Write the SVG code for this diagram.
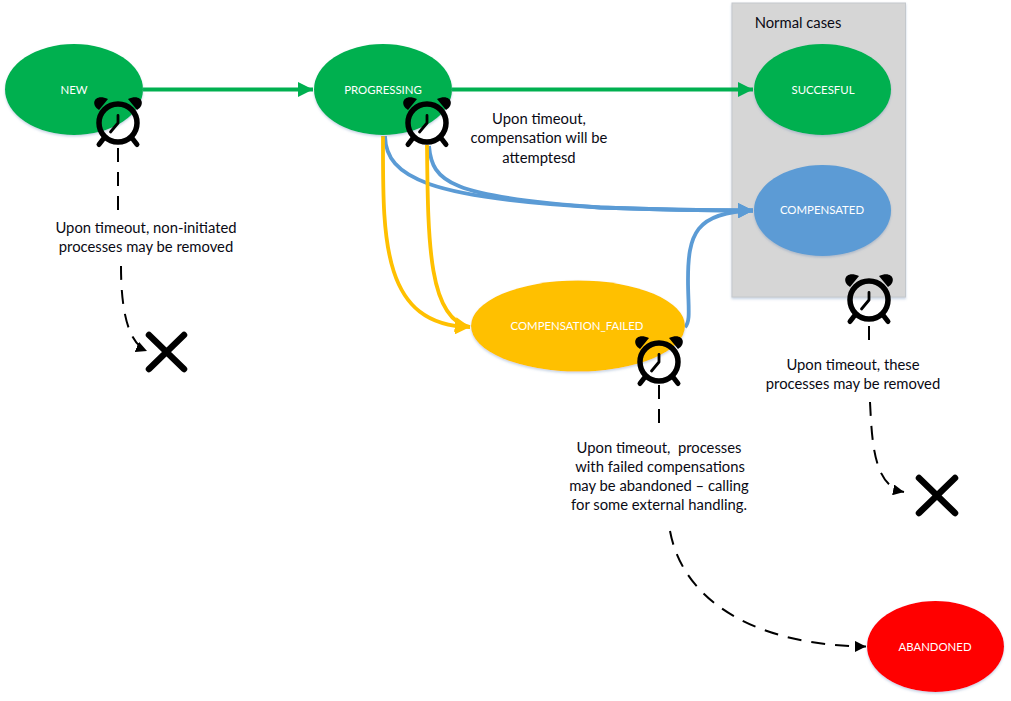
<svg xmlns="http://www.w3.org/2000/svg" width="1011" height="701" viewBox="0 0 1011 701">
<style>
text{font-family:"Lato","Carlito","Open Sans",sans-serif;text-anchor:middle;white-space:pre}
.n{font-size:11.4px;fill:#fff}
.t{font-size:14.800px;fill:#0a0a14}
.e,.box{filter:url(#sh)}
.c{fill:none;stroke-width:3.800}
.g{stroke:#00b050;marker-end:url(#mg)}
.b{stroke:#5b9bd5;marker-end:url(#mb)}
.y{stroke:#ffc000;marker-end:url(#my)}
.d{fill:none;stroke:#000;stroke-width:2;stroke-dasharray:14 10;}
.ring{fill:none;stroke:#000;stroke-width:5.500}
.hand{fill:none;stroke:#000;stroke-width:2.800;stroke-linecap:round;stroke-linejoin:round}
.leg{fill:none;stroke:#000;stroke-width:5;stroke-linecap:round}
.x{stroke:#000;stroke-width:6.500;stroke-linecap:round}
</style>
<defs>
<filter id="sh" x="-10%" y="-10%" width="120%" height="120%"><feDropShadow dx="0" dy="1.500" stdDeviation="1.200" flood-color="#5b7fb0" flood-opacity=".35"/></filter>
<marker id="mg" markerUnits="userSpaceOnUse" markerWidth="15" markerHeight="15" refX="15" refY="7.500" orient="auto"><path d="M0 0L15 7.500L0 15z" fill="#00b050"/></marker>
<marker id="mb" markerUnits="userSpaceOnUse" markerWidth="15" markerHeight="15" refX="15" refY="7.500" orient="auto"><path d="M0 0L15 7.500L0 15z" fill="#5b9bd5"/></marker>
<marker id="my" markerUnits="userSpaceOnUse" markerWidth="15" markerHeight="15" refX="15" refY="7.500" orient="auto"><path d="M0 0L15 7.500L0 15z" fill="#ffc000"/></marker>
<marker id="mk" markerUnits="userSpaceOnUse" markerWidth="11" markerHeight="11" refX="11" refY="5.500" orient="auto"><path d="M0 0L11 5.500L0 11z" fill="#000"/></marker>
<g id="clock">
<path d="M-19-13C-28-18-24-30-10-24z"/>
<path d="M19-13C28-18 24-30 10-24z"/>
<circle class="ring" r="19"/>
<path class="hand" d="M0-7.500V0L-7.500 9"/>
<path class="leg" d="M-14 15L-19 21.500M14 15L19 21.500"/>
</g>
</defs>
<g id="normal-cases"><rect class="box" x="732" y="3" width="173.500" height="294" fill="#d6d6d6" stroke="#c4c8cc"/><text class="t" x="798" y="28">Normal cases</text></g>
<g id="connectors">
<path class="c g" d="M143 89.500H313"/>
<path class="c g" d="M452 89.500H753"/>
<path class="c b" d="M385 136C386 178 430 198 600 207.500Q680 210.500 753 210.500"/>
<path class="c b" d="M429 146C432 182 450 197 600 207.500Q680 210.500 753 210.500"/>
<path class="c b" d="M685 327C691 322 688 305 688 280C688 235 695 212 753 210.500"/>
<path class="c y" d="M383 136C383 235 380 326 470 327"/>
<path class="c y" d="M427 145C428 240 428 320 470 327"/>
<path class="d" d="M118 148V211"/>
<path class="d" d="M121 266C121 300 125 342 147 351" marker-end="url(#mk)"/>
<path class="d" d="M659 385V424"/>
<path class="d" d="M670 531C685 610 770 646 866 646.500" marker-end="url(#mk)"/>
<path class="d" d="M869 326V344"/>
<path class="d" d="M870 402C872 440 873 486 904 492" marker-end="url(#mk)"/>
</g>
<g id="new"><ellipse class="e" cx="74" cy="89.500" rx="69" ry="45.500" fill="#00b050"/><text class="n" x="74" y="93.500">NEW</text></g>
<g id="progressing"><ellipse class="e" cx="383" cy="89.500" rx="69" ry="45.500" fill="#00b050"/><text class="n" x="383" y="93.500">PROGRESSING</text></g>
<g id="succesful"><ellipse class="e" cx="822.500" cy="89.500" rx="68.500" ry="45.500" fill="#00b050"/><text class="n" x="823" y="93.500">SUCCESFUL</text></g>
<g id="compensated"><ellipse class="e" cx="822.500" cy="210.500" rx="68.500" ry="45.500" fill="#5b9bd5"/><text class="n" x="822" y="214">COMPENSATED</text></g>
<g id="compensation-failed"><ellipse class="e" cx="578" cy="326" rx="107" ry="45.500" fill="#ffc000"/><text class="n" x="577" y="330">COMPENSATION_FAILED</text></g>
<g id="abandoned"><ellipse class="e" cx="935.500" cy="646.500" rx="68.500" ry="45.500" fill="#ff0000"/><text class="n" x="935" y="651">ABANDONED</text></g>
<g id="clocks">
<use href="#clock" x="118" y="123"/>
<use href="#clock" x="427" y="123"/>
<use href="#clock" x="659" y="362"/>
<use href="#clock" x="869" y="300"/>
</g>
<g id="crosses">
<path class="x" d="M149 335L184 369M184 335L149 369"/>
<path class="x" d="M919 478L955 513M955 478L919 513"/>
</g>
<g id="labels">
<text class="t" x="146" y="233">Upon timeout, non-initiated</text>
<text class="t" x="146" y="252">processes may be removed</text>
<text class="t" x="539" y="124">Upon timeout,</text>
<text class="t" x="539" y="143">compensation will be</text>
<text class="t" x="539" y="163">attemptesd</text>
<text class="t" x="659" y="453">Upon timeout,  processes</text>
<text class="t" x="660" y="472">with failed compensations</text>
<text class="t" x="659" y="491">may be abandoned – calling</text>
<text class="t" x="659" y="510">for some external handling.</text>
<text class="t" x="853" y="370">Upon timeout, these</text>
<text class="t" x="853" y="389">processes may be removed</text>
</g>
</svg>
